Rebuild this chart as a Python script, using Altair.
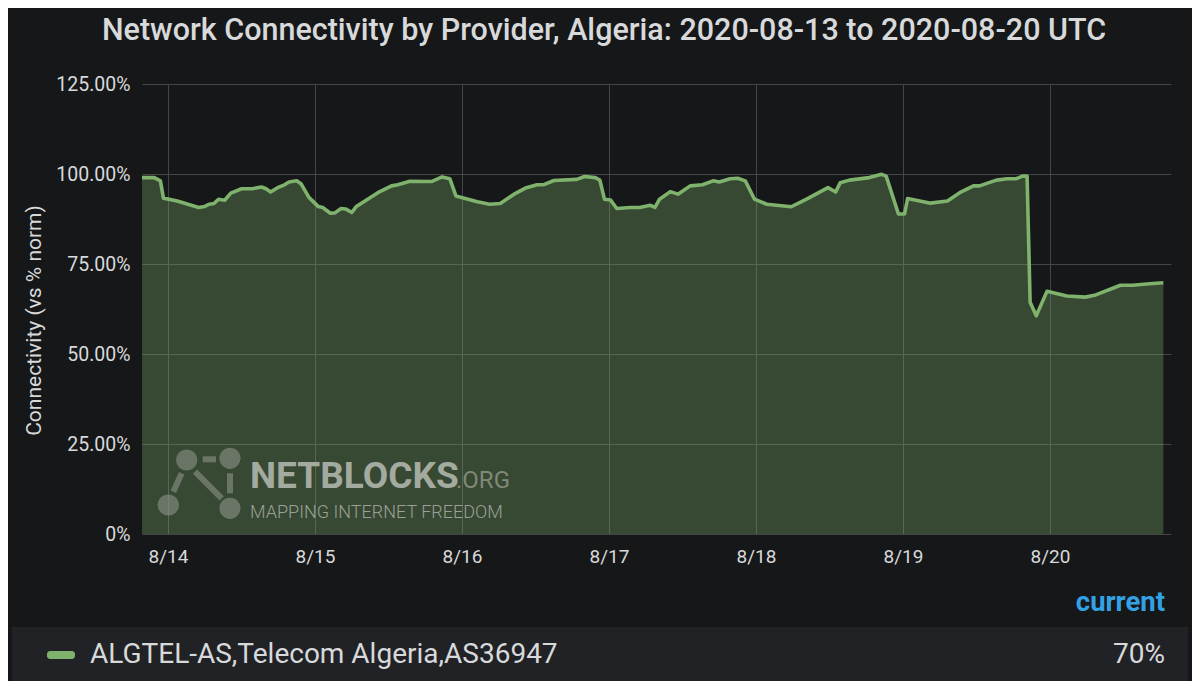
import altair as alt
import pandas as pd

# ---------------- data ----------------
times = [
    "2020-08-13T19:45:00Z", "2020-08-13T21:45:00Z", "2020-08-13T22:45:00Z", "2020-08-13T23:15:00Z",
    "2020-08-14T01:30:00Z", "2020-08-14T05:00:00Z", "2020-08-14T06:00:00Z", "2020-08-14T06:45:00Z",
    "2020-08-14T07:30:00Z", "2020-08-14T08:15:00Z", "2020-08-14T09:15:00Z", "2020-08-14T10:15:00Z",
    "2020-08-14T12:00:00Z", "2020-08-14T13:45:00Z", "2020-08-14T15:15:00Z", "2020-08-14T16:00:00Z",
    "2020-08-14T16:45:00Z", "2020-08-14T18:00:00Z", "2020-08-14T19:00:00Z", "2020-08-14T19:45:00Z",
    "2020-08-14T21:00:00Z", "2020-08-14T21:45:00Z", "2020-08-14T23:00:00Z",
    "2020-08-15T00:30:00Z", "2020-08-15T01:15:00Z", "2020-08-15T02:30:00Z", "2020-08-15T03:15:00Z",
    "2020-08-15T04:15:00Z", "2020-08-15T05:00:00Z", "2020-08-15T06:00:00Z", "2020-08-15T06:45:00Z",
    "2020-08-15T10:15:00Z", "2020-08-15T12:30:00Z", "2020-08-15T13:30:00Z", "2020-08-15T15:30:00Z",
    "2020-08-15T19:00:00Z", "2020-08-15T20:45:00Z", "2020-08-15T22:00:00Z", "2020-08-15T23:00:00Z",
    "2020-08-16T02:30:00Z", "2020-08-16T04:30:00Z", "2020-08-16T06:15:00Z", "2020-08-16T08:30:00Z",
    "2020-08-16T10:30:00Z", "2020-08-16T12:15:00Z", "2020-08-16T13:15:00Z", "2020-08-16T15:00:00Z",
    "2020-08-16T18:45:00Z", "2020-08-16T20:00:00Z", "2020-08-16T21:45:00Z", "2020-08-16T22:30:00Z",
    "2020-08-16T23:15:00Z",
    "2020-08-17T00:15:00Z", "2020-08-17T01:15:00Z", "2020-08-17T03:30:00Z", "2020-08-17T05:00:00Z",
    "2020-08-17T06:45:00Z", "2020-08-17T07:30:00Z", "2020-08-17T08:15:00Z", "2020-08-17T10:00:00Z",
    "2020-08-17T11:15:00Z", "2020-08-17T13:15:00Z", "2020-08-17T15:15:00Z", "2020-08-17T17:00:00Z",
    "2020-08-17T18:00:00Z", "2020-08-17T19:45:00Z", "2020-08-17T21:00:00Z", "2020-08-17T22:15:00Z",
    "2020-08-17T23:45:00Z",
    "2020-08-18T01:45:00Z", "2020-08-18T05:45:00Z", "2020-08-18T08:15:00Z", "2020-08-18T11:45:00Z",
    "2020-08-18T13:00:00Z", "2020-08-18T13:45:00Z", "2020-08-18T15:15:00Z", "2020-08-18T18:30:00Z",
    "2020-08-18T20:30:00Z", "2020-08-18T21:15:00Z", "2020-08-18T23:15:00Z",
    "2020-08-19T00:15:00Z", "2020-08-19T00:45:00Z", "2020-08-19T04:30:00Z", "2020-08-19T07:15:00Z",
    "2020-08-19T09:15:00Z", "2020-08-19T11:30:00Z", "2020-08-19T12:30:00Z", "2020-08-19T15:15:00Z",
    "2020-08-19T17:00:00Z", "2020-08-19T18:30:00Z", "2020-08-19T19:30:00Z", "2020-08-19T20:15:00Z",
    "2020-08-19T20:45:00Z", "2020-08-19T21:45:00Z", "2020-08-19T23:30:00Z",
    "2020-08-20T02:45:00Z", "2020-08-20T05:45:00Z", "2020-08-20T07:15:00Z", "2020-08-20T11:30:00Z",
    "2020-08-20T13:30:00Z", "2020-08-20T16:15:00Z", "2020-08-20T18:30:00Z",
]
connectivity = [
    99.0, 99.0, 98.1, 93.3,
    92.5, 90.7, 91.0, 91.6,
    91.8, 93.0, 92.7, 94.7,
    95.9, 95.9, 96.4, 95.9,
    95.0, 96.3, 97.0, 97.8,
    98.1, 97.2, 93.5,
    91.0, 90.7, 89.1, 89.2,
    90.4, 90.3, 89.3, 91.0,
    94.8, 96.7, 97.0, 98.0,
    97.9, 99.2, 98.7, 93.9,
    92.3, 91.6, 91.8, 94.4,
    96.2, 97.0, 97.0, 98.2,
    98.5, 99.3, 99.0, 98.3,
    93.0,
    92.8, 90.4, 90.7, 90.7,
    91.3, 90.7, 93.0, 95.1,
    94.4, 96.7, 97.0, 98.1,
    97.8, 98.7, 98.8, 98.1,
    93.0,
    91.6, 90.9, 93.0, 96.2,
    95.0, 97.6, 98.3, 99.0,
    99.9, 99.4, 88.9,
    88.9, 93.2, 91.9, 92.5,
    94.8, 96.7, 96.7, 98.3,
    98.7, 98.7, 99.4, 99.4,
    64.4, 60.6, 67.4,
    66.1, 65.8, 66.3, 69.1,
    69.1, 69.5, 69.8,
]
x_domain = ["2020-08-13T19:45:00Z", "2020-08-20T19:45:00Z"]
x_tick_days = [14, 15, 16, 17, 18, 19, 20]
y_ticks = [0, 25, 50, 75, 100, 125]

title_text = ["Network Connectivity by Provider, Algeria: 2020-08-13 to 2020-08-20 UTC"]
y_title = "Connectivity (vs % norm)"
series_name = ["ALGTEL-AS,Telecom Algeria,AS36947"]
legend_header = ["current"]
current_value = ["70%"]
wm_main = ["NETBLOCKS"]
wm_org = [".ORG"]
wm_sub = ["MAPPING INTERNET FREEDOM"]

# ---------------- style ----------------
BG = "#161719"
GREEN = "#7eb26d"
TXT = "#d8d9da"
GRID = "#444547"
FONT = "Roboto"
WM = "#8c9488"

df = pd.DataFrame({"time": times, "value": connectivity})

x_enc = alt.X(
    "time:T",
    scale=alt.Scale(type="utc", domain=x_domain),
    axis=alt.Axis(
        values=[alt.DateTime(year=2020, month=8, date=d, utc=True) for d in x_tick_days],
        labelExpr="utcFormat(datum.value, '%-m/%d')",
        labelFont=FONT, labelFontSize=19, labelColor=TXT, labelPadding=13,
        ticks=False, domain=False, gridColor=GRID, gridWidth=1, title=None,
    ),
)
y_enc = alt.Y(
    "value:Q",
    scale=alt.Scale(domain=[0, 125], nice=False),
    axis=alt.Axis(
        values=y_ticks,
        labelExpr="datum.value == 0 ? '0%' : format(datum.value, '.2f') + '%'",
        labelFont=FONT, labelFontSize=19.5, labelColor=TXT, labelPadding=12,
        ticks=False, domain=False, gridColor=GRID, gridWidth=1,
        title=y_title, titleFont=FONT, titleFontSize=21, titleFontWeight="normal",
        titleColor=TXT, titleAngle=270, titleAlign="center", titleBaseline="middle",
        titleX=-108, titleY=236,
    ),
)

base = alt.Chart(df)
area = base.mark_area(color=GREEN, opacity=0.32, interpolate="linear").encode(x=x_enc, y=y_enc)
line = base.mark_line(color=GREEN, strokeWidth=3.6, interpolate="linear",
                      strokeJoin="round").encode(x="time:T", y="value:Q")


def one_text(values, x, y, size, color, align="left", baseline="middle", weight="normal", font=FONT):
    d = pd.DataFrame({"s": values})
    return alt.Chart(d).mark_text(
        align=align, baseline=baseline, fontSize=size, fontWeight=weight, font=font, color=color
    ).encode(text="s:N", x=alt.value(x), y=alt.value(y))


one = pd.DataFrame({"k": [0]})


def deco_rect(x, x2, y, y2, color, radius=0):
    return alt.Chart(one).mark_rect(color=color, cornerRadius=radius).encode(
        x=alt.value(x), x2=alt.value(x2), y=alt.value(y), y2=alt.value(y2))


def deco_circle(x, y, size, color, op):
    return alt.Chart(one).mark_circle(color=color, size=size, opacity=op).encode(
        x=alt.value(x), y=alt.value(y))


def deco_rule(x, y, x2, y2, color, op, w):
    return alt.Chart(one).mark_rule(color=color, strokeWidth=w, opacity=op).encode(
        x=alt.value(x), y=alt.value(y), x2=alt.value(x2), y2=alt.value(y2))


legend_row = deco_rect(-130, 1046, 543, 601, "#212226")
swatch = deco_rect(-95, -67, 567, 575, GREEN, radius=3)

wm_op = 0.6
watermark = [
    deco_rule(60.7, 375.3, 74, 375.3, WM, wm_op, 6),
    deco_rule(39.7, 389.3, 31.3, 407.7, WM, wm_op, 6),
    deco_rule(53, 387.7, 79.7, 414.3, WM, wm_op, 6),
    deco_rule(88, 389.3, 88, 409.3, WM, wm_op, 6),
    deco_circle(44.7, 376, 450, WM, wm_op),
    deco_circle(88, 374.3, 450, WM, wm_op),
    deco_circle(26.3, 421, 450, WM, wm_op),
    deco_circle(88, 424.3, 450, WM, wm_op),
    one_text(wm_main, 108, 404, 37, "#a3aa9f", baseline="alphabetic", weight="bold"),
    one_text(wm_org, 314, 404, 24, "#7f8879", baseline="alphabetic"),
    one_text(wm_sub, 108, 434, 18, "#9aa196", baseline="alphabetic", weight=300),
]

texts = [
    one_text(title_text, 462, -53, 30.5, TXT, align="center", weight=500),
    one_text(legend_header, 1023, 519, 27.5, "#33a2e5", align="right", weight="bold"),
    one_text(series_name, -52, 571, 28, TXT),
    one_text(current_value, 1023, 571, 28, TXT, align="right"),
]

chart = alt.layer(legend_row, area, *watermark, line, swatch, *texts).properties(
    width=1029,
    height=450,
    autosize=alt.AutoSizeParams(type="none"),
    padding={"left": 134, "top": 76, "right": 21, "bottom": 147},
).configure(background=BG).configure_view(strokeWidth=0)

chart.save("out.html", embed_options={"renderer": "svg", "actions": False})
